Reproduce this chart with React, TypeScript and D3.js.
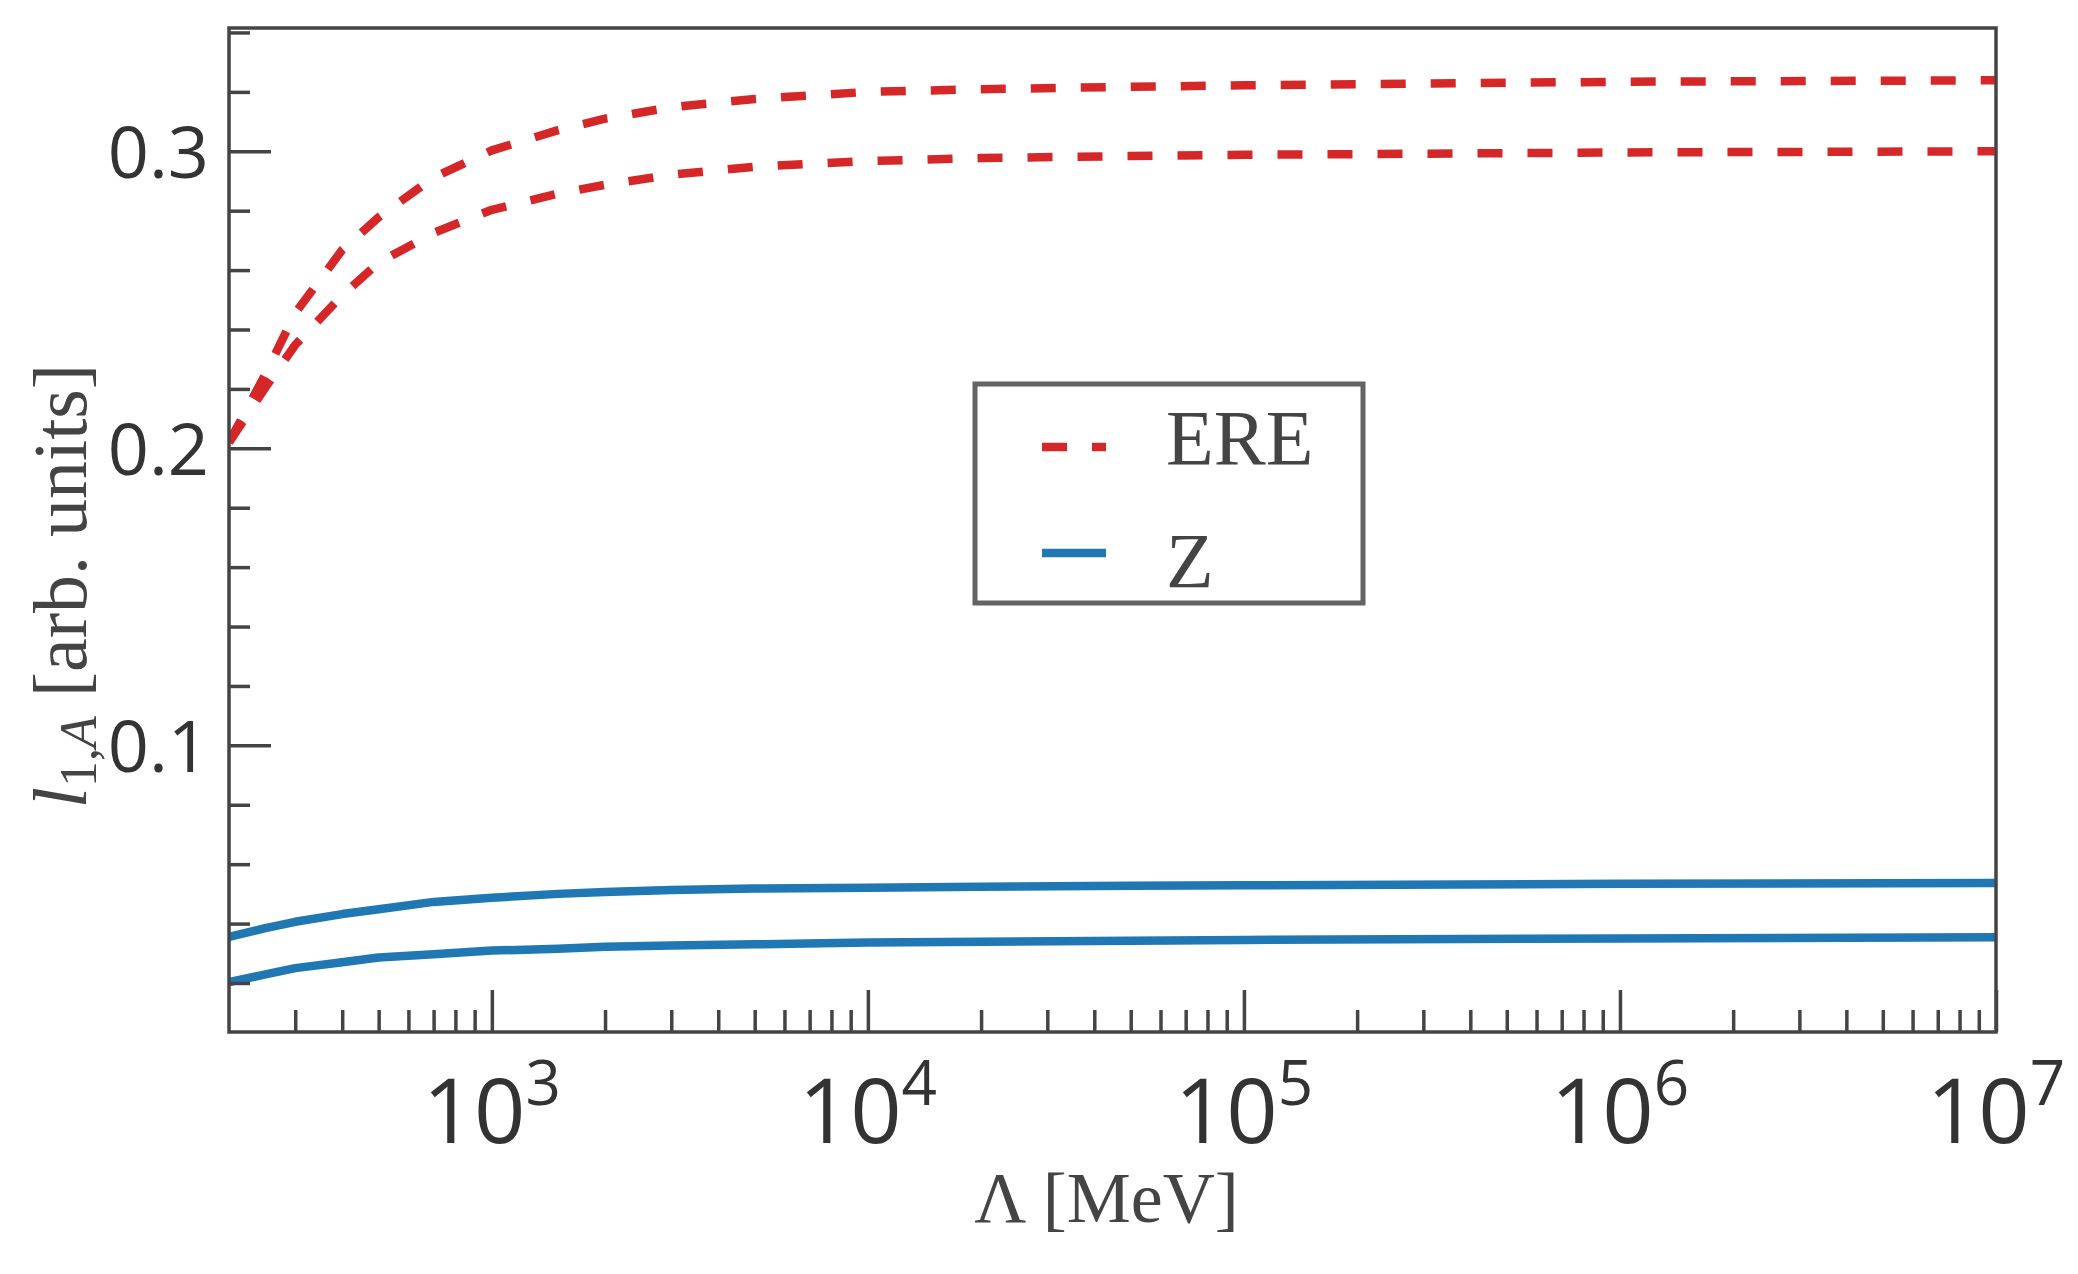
import { useEffect, useRef } from 'react';
import * as d3 from 'd3';

const lambdaValues = [200, 250, 300, 400, 500, 700, 1000, 1500, 2000, 3000, 5000, 1e4, 2e4, 5e4, 1e5, 1e6, 1e7];

const ereUpper = [0.202, 0.225, 0.2455, 0.2668, 0.2778, 0.2912, 0.3003, 0.3071, 0.311, 0.3148, 0.3176, 0.32, 0.3209, 0.3217, 0.3222, 0.3234, 0.3239];
const ereLower = [0.202, 0.2205, 0.2348, 0.2515, 0.2625, 0.2725, 0.2803, 0.2858, 0.2887, 0.2921, 0.2948, 0.2967, 0.2977, 0.2984, 0.2988, 0.2996, 0.3];
const zUpper = [0.0355, 0.0385, 0.0406, 0.0432, 0.0448, 0.0473, 0.0487, 0.05, 0.0506, 0.0513, 0.0518, 0.0521, 0.0524, 0.0527, 0.0529, 0.0534, 0.0537];
const zLower = [0.0203, 0.0229, 0.025, 0.027, 0.0286, 0.0297, 0.0309, 0.0315, 0.0322, 0.0326, 0.033, 0.0336, 0.0339, 0.0342, 0.0345, 0.035, 0.0354];

const yMajorTicks = [0.1, 0.2, 0.3];
const yMinorTicks = [0.02, 0.04, 0.06, 0.08, 0.12, 0.14, 0.16, 0.18, 0.22, 0.24, 0.26, 0.28, 0.32, 0.34];
const xMajorExponents = [3, 4, 5, 6, 7];

const xDomain: [number, number] = [200, 1e7];
const yDomain: [number, number] = [0.0035, 0.3415];

const RED = '#d62728';
const BLUE = '#1f77b4';

export default function App() {
    const svgRef = useRef<SVGSVGElement>(null);
    const width = 2078;
    const height = 1274;

    useEffect(() => {
        if (!svgRef.current) return;
        d3.select(svgRef.current).selectAll('*').remove();

        const margin = { top: 28, right: 82, bottom: 242, left: 229 };
        const innerWidth = width - margin.left - margin.right;
        const innerHeight = height - margin.top - margin.bottom;

        const svg = d3.select(svgRef.current).attr('width', width).attr('height', height);
        svg.append('rect').attr('width', width).attr('height', height).attr('fill', 'white');

        const g = svg.append('g').attr('transform', `translate(${margin.left}, ${margin.top})`);

        const xScale = d3.scaleLog().domain(xDomain).range([0, innerWidth]);
        const yScale = d3.scaleLinear().domain(yDomain).range([innerHeight, 0]);

        g.append('clipPath')
            .attr('id', 'plot-clip')
            .append('rect')
            .attr('width', innerWidth)
            .attr('height', innerHeight);

        // Lines
        const line = d3
            .line<number>()
            .x((_, i) => xScale(lambdaValues[i]))
            .y((d) => yScale(d));

        const series = [
            { values: zUpper, color: BLUE, dash: null },
            { values: zLower, color: BLUE, dash: null },
            { values: ereUpper, color: RED, dash: '25 25' },
            { values: ereLower, color: RED, dash: '25 25' },
        ];

        g.append('g')
            .attr('clip-path', 'url(#plot-clip)')
            .selectAll('path')
            .data(series)
            .enter()
            .append('path')
            .attr('d', (d) => line(d.values))
            .attr('fill', 'none')
            .attr('stroke', (d) => d.color)
            .attr('stroke-width', 8.5)
            .attr('stroke-dasharray', (d) => d.dash)
            .attr('stroke-linejoin', 'round');

        // Y axis (ticks pointing inward)
        const yMajor = g
            .append('g')
            .call(d3.axisLeft(yScale).tickValues(yMajorTicks).tickSize(-42).tickPadding(20).tickFormat(d3.format('.1f')));
        yMajor.select('.domain').remove();
        yMajor.selectAll('line').attr('stroke', '#444').attr('stroke-width', 3.5);
        yMajor
            .selectAll('text')
            .attr('fill', '#333')
            .style('font-family', '"Open Sans", sans-serif')
            .style('font-size', '72px')
            .attr('dy', '0.36em');

        const yMinor = g
            .append('g')
            .call(d3.axisLeft(yScale).tickValues(yMinorTicks).tickSize(-21).tickFormat(() => ''));
        yMinor.select('.domain').remove();
        yMinor.selectAll('line').attr('stroke', '#444').attr('stroke-width', 3.5);

        // X axis (log)
        const xMinorValues: number[] = [];
        for (let e = 2; e <= 6; e++) {
            for (let m = 1; m <= 9; m++) {
                const v = m * Math.pow(10, e);
                if (m !== 1 && v > xDomain[0] && v < xDomain[1]) xMinorValues.push(v);
            }
        }
        const xMajorValues = xMajorExponents.map((e) => Math.pow(10, e));

        const xMajor = g
            .append('g')
            .attr('transform', `translate(0, ${innerHeight})`)
            .call(d3.axisBottom(xScale).tickValues(xMajorValues).tickSize(-42).tickFormat(() => ''));
        xMajor.select('.domain').remove();
        xMajor.selectAll('line').attr('stroke', '#444').attr('stroke-width', 3.5);

        const xMinor = g
            .append('g')
            .attr('transform', `translate(0, ${innerHeight})`)
            .call(d3.axisBottom(xScale).tickValues(xMinorValues).tickSize(-22).tickFormat(() => ''));
        xMinor.select('.domain').remove();
        xMinor.selectAll('line').attr('stroke', '#444').attr('stroke-width', 3.5);

        const xLabels = g
            .append('g')
            .selectAll('text')
            .data(xMajorExponents)
            .enter()
            .append('text')
            .attr('x', (d) => xScale(Math.pow(10, d)))
            .attr('y', innerHeight + 111)
            .attr('text-anchor', 'middle')
            .attr('fill', '#333')
            .style('font-family', '"Open Sans", sans-serif')
            .style('font-size', '90px');
        xLabels.append('tspan').text('10');
        xLabels
            .append('tspan')
            .attr('dy', -38)
            .style('font-size', '62px')
            .text((d) => `${d}`);

        // Frame
        g.append('rect')
            .attr('width', innerWidth)
            .attr('height', innerHeight)
            .attr('fill', 'none')
            .attr('stroke', '#444')
            .attr('stroke-width', 3.5);

        // Axis labels
        svg.append('text')
            .attr('x', margin.left + innerWidth / 2 - 6)
            .attr('y', 1222)
            .attr('text-anchor', 'middle')
            .attr('fill', '#444')
            .style('font-family', '"Liberation Serif", serif')
            .style('font-size', '72px')
            .text('Λ [MeV]');

        const yLabel = svg
            .append('text')
            .attr('transform', 'translate(86, 586) rotate(-90)')
            .attr('text-anchor', 'middle')
            .attr('fill', '#444')
            .style('font-family', '"Liberation Serif", serif')
            .style('font-size', '76px');
        yLabel.append('tspan').style('font-style', 'italic').text('l');
        yLabel.append('tspan').attr('dy', 10).style('font-size', '52px').text('1,');
        yLabel.append('tspan').style('font-size', '52px').style('font-style', 'italic').text('A');
        yLabel.append('tspan').attr('dy', -10).text(' [arb. units]');

        // Legend
        const legend = svg.append('g');
        legend
            .append('rect')
            .attr('x', 975)
            .attr('y', 384)
            .attr('width', 388)
            .attr('height', 219)
            .attr('fill', 'white')
            .attr('stroke', '#636363')
            .attr('stroke-width', 5);

        const legendItems = [
            { label: 'ERE', color: RED, dash: '25 25', y: 447, textY: 464 },
            { label: 'Z', color: BLUE, dash: null, y: 553, textY: 587 },
        ];
        legendItems.forEach((item) => {
            legend
                .append('line')
                .attr('x1', 1042)
                .attr('x2', 1106)
                .attr('y1', item.y)
                .attr('y2', item.y)
                .attr('stroke', item.color)
                .attr('stroke-width', 8.5)
                .attr('stroke-dasharray', item.dash);
            legend
                .append('text')
                .attr('x', 1166)
                .attr('y', item.textY)
                .attr('fill', '#444')
                .style('font-family', '"Liberation Serif", serif')
                .style('font-size', '78px')
                .text(item.label);
        });
    }, []);

    return (
        <div style={{ position: 'absolute', left: 0, top: 0 }}>
            <svg ref={svgRef} style={{ display: 'block' }}></svg>
        </div>
    );
}
